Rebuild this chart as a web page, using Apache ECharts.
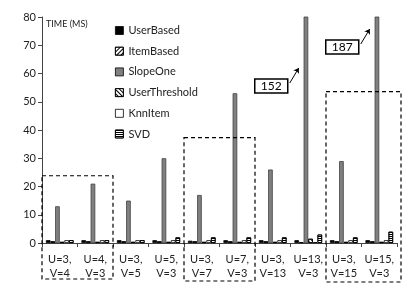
<!DOCTYPE html>
<html><head><meta charset="utf-8">
<script src="https://cdn.jsdelivr.net/npm/echarts@6/dist/echarts.min.js"></script>
<style>html,body{margin:0;padding:0;background:#fff}#c{width:415px;height:294px}</style>
</head><body><div id="c"></div>
<script>
var categories = ['U=3,\nV=4','U=4,\nV=3','U=3,\nV=5','U=5,\nV=3','U=3,\nV=7','U=7,\nV=3','U=3,\nV=13','U=13,\nV=3','U=3,\nV=15','U=15,\nV=3'];
var userBased     = [1, 1, 1, 1, 0.8, 1, 1, 1, 1, 1];
var itemBased     = [0.6, 0.6, 0.6, 0.6, 0.6, 0.6, 0.6, 0.3, 0.6, 0.6];
var slopeOne      = [13, 21, 15, 30, 17, 53, 26, 152, 29, 187];
var userThreshold = [0.4, 0.4, 0.4, 0.4, 0.4, 0.4, 0.4, 1.5, 0.4, 0.4];
var knnItem       = [1, 1, 1, 1, 1, 1, 1, 0.3, 1, 1];
var svd           = [1, 1, 1, 2, 2, 2, 2, 3, 2, 4];
var yTicks = [0,10,20,30,40,50,60,70,80];
var callouts = [{cat:7, text:'152'}, {cat:9, text:'187'}];

var FONT = 'Lato, "Open Sans", sans-serif';
var chart = echarts.init(document.getElementById('c'), null, {renderer:'canvas'});
function bar(name, data, color, border, decal){
  var s = {name:name, type:'bar', data:data, barGap:'0%', barCategoryGap:'22%',
    itemStyle:{color:color, borderColor:border, borderWidth:0.8}, clip:true};
  if (decal) s.itemStyle.decal = decal;
  return s;
}
var option = {
  animation:false,
  grid:{left:42, right:18, top:17, bottom:51},
  legend:{orient:'vertical', left:110, top:20, itemWidth:8, itemHeight:8, itemGap:9.7,
    icon:'rect', textStyle:{fontFamily:FONT, fontSize:11, color:'#222'}, itemStyle:{borderColor:'#000', borderWidth:0.8},
    data:['UserBased','ItemBased','SlopeOne','UserThreshold','KnnItem','SVD']},
  xAxis:{type:'category', data:categories,
    axisLine:{lineStyle:{color:'#444', width:1}},
    axisTick:{show:true, length:4, lineStyle:{color:'#444'}},
    axisLabel:{interval:0, fontFamily:FONT, fontSize:11, color:'#222', lineHeight:14, margin:9}},
  yAxis:{type:'value', min:0, max:80, interval:10,
    axisLine:{show:true, lineStyle:{color:'#444', width:1}},
    axisTick:{show:true, length:4, lineStyle:{color:'#444'}},
    splitLine:{show:false},
    axisLabel:{fontFamily:FONT, fontSize:11, color:'#222', margin:6}},
  series:[
    bar('UserBased', userBased, '#000', '#000'),
    bar('ItemBased', itemBased, '#fff', '#000', {symbol:'rect', symbolSize:1, dashArrayX:[1,0], dashArrayY:[1,2], rotation:-Math.PI/4, color:'#000'}),
    bar('SlopeOne', slopeOne, '#808080', '#404040'),
    bar('UserThreshold', userThreshold, '#fff', '#000', {symbol:'rect', symbolSize:1, dashArrayX:[1,0], dashArrayY:[1,1.5], rotation:Math.PI/4, color:'#000'}),
    bar('KnnItem', knnItem, '#fff', '#000'),
    bar('SVD', svd, '#fff', '#000', {symbol:'rect', symbolSize:1, dashArrayX:[1,0], dashArrayY:[1,1], rotation:0, color:'#000'})
  ]
};
chart.setOption(option);

var g = [];
function px(cat, v){ return chart.convertToPixel({gridIndex:0}, [cat, v]); }
var bw = px(1,0)[0]-px(0,0)[0];
function boxRect(c0, c1, topVal, bottomPx, extraRight){
  var x0 = px(c0,0)[0]-bw/2, x1 = px(c1,0)[0]+bw/2 + (extraRight||0);
  var yt = px(0, topVal)[1];
  return {type:'rect', shape:{x:x0, y:yt, width:x1-x0, height:bottomPx-yt},
    style:{fill:null, stroke:'#000', lineWidth:1.2, lineDash:[4,3]}, z:10};
}
g.push(boxRect(0,1,23.8,279));
g.push(boxRect(4,5,37.3,281));
g.push(boxRect(8,9,53.6,282,4));
g.push({type:'text', left:46, top:20, style:{text:'TIME (MS)', font:'9px '+FONT, fill:'#222'}});
var arrowData = [];
var boxTops = [79, 40];
callouts.forEach(function(c, i){
  var rx = px(c.cat,0)[0] - 53.5, ry = boxTops[i];
  g.push({type:'rect', shape:{x:rx, y:ry, width:33, height:14},
    style:{fill:'#fff', stroke:'#000', lineWidth:1.5}, z:11});
  g.push({type:'text', x:rx+16.5, y:ry+7.5, style:{text:c.text, font:'12px '+FONT, fill:'#000', align:'center', verticalAlign:'middle'}, z:12});
  arrowData.push([{x:rx+35, y:ry+4, symbol:'none'},{x:rx+44, y:ry-11, symbol:'arrow', symbolSize:5}]);
});
chart.setOption({graphic:g, series:[{},{},{markLine:{silent:true, symbolSize:5, lineStyle:{color:'#000', type:'solid', width:1}, label:{show:false}, data:arrowData}}]});
</script></body></html>
